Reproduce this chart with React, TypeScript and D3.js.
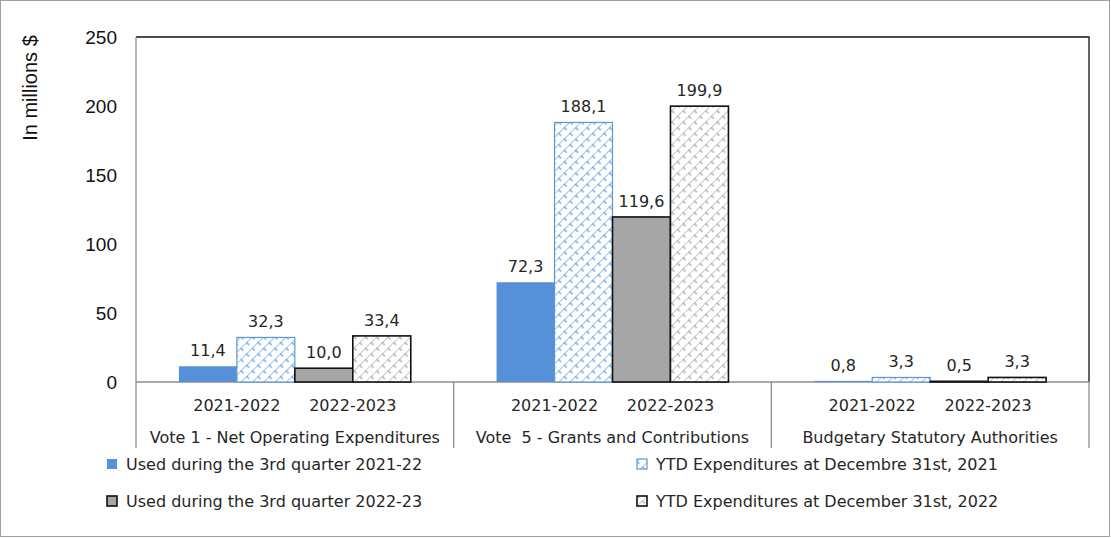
import * as d3 from 'd3';

const groups = ['Vote 1 - Net Operating Expenditures', 'Vote  5 - Grants and Contributions', 'Budgetary Statutory Authorities'];
const periods = ['2021-2022', '2022-2023'];
const seriesNames = [
  'Used during the 3rd quarter 2021-22',
  'YTD Expenditures at Decembre 31st, 2021',
  'Used during the 3rd quarter 2022-23',
  'YTD Expenditures at December 31st, 2022',
];
const usedQ3_2021 = [11.4, 72.3, 0.8];
const ytd2021 = [32.3, 188.1, 3.3];
const usedQ3_2022 = [10.0, 119.6, 0.5];
const ytd2022 = [33.4, 199.9, 3.3];
const yTicks = [0, 50, 100, 150, 200, 250];

const W = 1111;
const H = 538;
const left = 136;
const right = 1089;
const top = 37;
const bottom = 382;
const font = '"Century Gothic", "DejaVu Sans", sans-serif';
const textColor = '#262626';

const seriesValues = [usedQ3_2021, ytd2021, usedQ3_2022, ytd2022];
const fills = ['#5590d8', 'url(#hatchBlue)', '#a6a6a6', 'url(#hatchGray)'];
const strokes = ['none', '#5b9bd5', '#111', '#111'];

export default function App() {
  const x0 = d3.scaleBand<string>().domain(groups).range([left, right]).paddingInner(0).paddingOuter(0);
  const x1 = d3
    .scaleBand<string>()
    .domain(seriesNames)
    .range([0, x0.bandwidth()])
    .paddingInner(0)
    .paddingOuter(0.74);
  const y = d3.scaleLinear().domain([0, 250]).range([bottom, top]);
  const fmt = (v: number) => v.toFixed(1).replace('.', ',');

  const legendRows = [
    { x: 107, name: seriesNames[0], i: 0 },
    { x: 637, name: seriesNames[1], i: 1 },
    { x: 107, name: seriesNames[2], i: 2 },
    { x: 637, name: seriesNames[3], i: 3 },
  ];

  return (
    <svg width={W} height={H} style={{ position: 'absolute', left: 0, top: 0 }}>
      <defs>
        <pattern id="hatchBlue" width="8" height="8" patternUnits="userSpaceOnUse" patternTransform="rotate(45)">
          <rect width="8" height="8" fill="#fff" />
          <line x1="0" y1="0" x2="0" y2="8" stroke="#4a8fdc" strokeWidth="1.1" />
          <line x1="0" y1="4" x2="8" y2="4" stroke="#4a8fdc" strokeWidth="1.1" strokeDasharray="4 4" />
        </pattern>
        <pattern id="hatchGray" width="8" height="8" patternUnits="userSpaceOnUse" patternTransform="rotate(45)">
          <rect width="8" height="8" fill="#fff" />
          <line x1="0" y1="0" x2="0" y2="8" stroke="#9a9a9a" strokeWidth="1.1" />
          <line x1="0" y1="4" x2="8" y2="4" stroke="#9a9a9a" strokeWidth="1.1" strokeDasharray="4 4" />
        </pattern>
      </defs>
      <rect x={0} y={0} width={W} height={H} fill="#fff" />
      <rect x={0.5} y={0.5} width={1109} height={536} fill="none" stroke="#a0a0a0" />

      {/* plot frame */}
      <path d={`M${left},${top}H${right}V${bottom}`} fill="none" stroke="#111" strokeWidth={1.3} />
      <line x1={left} x2={left} y1={top} y2={448} stroke="#8c8c8c" strokeWidth={1.3} />
      <line x1={left} x2={right} y1={bottom} y2={bottom} stroke="#8c8c8c" strokeWidth={1.3} />
      {groups.slice(1).map((g) => (
        <line key={g} x1={x0(g)!} x2={x0(g)!} y1={bottom} y2={448} stroke="#8c8c8c" strokeWidth={1.3} />
      ))}
      <line x1={right} x2={right} y1={bottom} y2={448} stroke="#8c8c8c" strokeWidth={1.3} />

      {/* y axis */}
      {yTicks.map((t) => (
        <text
          key={t}
          x={117}
          y={y(t)}
          dy="0.36em"
          textAnchor="end"
          fontFamily='"Liberation Sans", Arial, sans-serif'
          fontSize={19}
          fill="#111"
        >
          {t}
        </text>
      ))}
      <text
        transform={`translate(37,${88}) rotate(-90)`}
        textAnchor="middle"
        fontFamily='"Liberation Sans", Arial, sans-serif'
        fontSize={20}
        fill="#111"
      >
        In millions $
      </text>

      {/* bars */}
      {groups.map((g, gi) => (
        <g key={g} transform={`translate(${x0(g)},0)`}>
          {seriesNames.map((s, si) => {
            const v = seriesValues[si][gi];
            const bx = x1(s)!;
            return (
              <g key={s}>
                <rect
                  x={bx}
                  y={y(v)}
                  width={x1.bandwidth()}
                  height={bottom - y(v)}
                  fill={fills[si]}
                  stroke={strokes[si]}
                  strokeWidth={si === 1 ? 1.2 : 1.6}
                />
                <text
                  x={bx + x1.bandwidth() / 2}
                  y={y(v) - 10}
                  textAnchor="middle"
                  fontFamily={font}
                  fontSize={16}
                  fill={textColor}
                >
                  {fmt(v)}
                </text>
              </g>
            );
          })}
          {periods.map((p, pi) => (
            <text
              key={p}
              x={x1(seriesNames[pi * 2 + 1])!}
              y={405}
              dy="0.36em"
              textAnchor="middle"
              fontFamily={font}
              fontSize={16}
              fill={textColor}
            >
              {p}
            </text>
          ))}
          <text
            x={x0.bandwidth() / 2}
            y={437}
            dy="0.36em"
            textAnchor="middle"
            fontFamily={font}
            fontSize={16}
            fill={textColor}
            style={{ whiteSpace: 'pre' }}
          >
            {g}
          </text>
        </g>
      ))}

      {/* legend */}
      {legendRows.map((r) => {
        const ly = r.i < 2 ? 464 : 501;
        return (
          <g key={r.name}>
            <rect
              x={r.x}
              y={ly - 5}
              width={10}
              height={10}
              fill={fills[r.i]}
              stroke={strokes[r.i]}
              strokeWidth={r.i === 1 ? 1.2 : 1.6}
            />
            <text x={r.x + 19} y={ly} dy="0.36em" fontFamily={font} fontSize={16} fill={textColor}>
              {r.name}
            </text>
          </g>
        );
      })}
    </svg>
  );
}
